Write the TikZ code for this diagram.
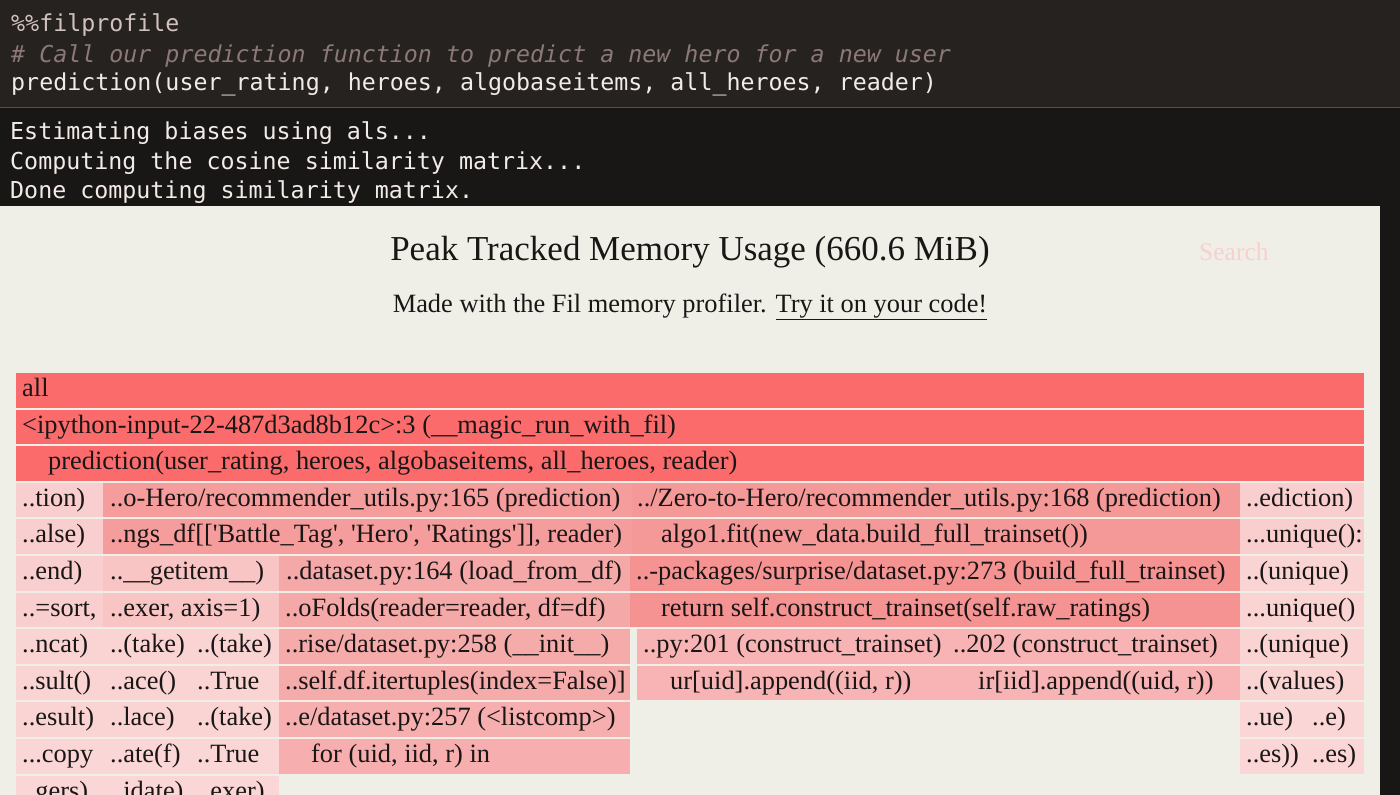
\documentclass[tikz,border=0pt]{standalone}
\usepackage{fontspec}
\setmainfont{Liberation Serif}
\newfontfamily\codefont{DejaVu Sans Mono}
\definecolor{darkbg}{HTML}{181716}
\definecolor{cellbg}{HTML}{262220}
\definecolor{celline}{HTML}{5C4D4A}
\definecolor{panel}{HTML}{F0EFE7}
\definecolor{codetxt}{HTML}{F3EBE8}
\definecolor{magictxt}{HTML}{D2C2BE}
\definecolor{commtxt}{HTML}{8C7876}
\definecolor{flametxt}{HTML}{1A1616}
\definecolor{searchtxt}{HTML}{F8D0D0}
\definecolor{cTop}{HTML}{FB6B6B}
\definecolor{cA}{HTML}{F59C9C}
\definecolor{cB}{HTML}{F59898}
\definecolor{cC}{HTML}{F59292}
\definecolor{cD}{HTML}{F5A8A8}
\definecolor{cE}{HTML}{F6ABAB}
\definecolor{cF}{HTML}{F8B4B4}
\definecolor{cG}{HTML}{F7AEAE}
\definecolor{cH}{HTML}{F8C4C4}
\definecolor{cL}{HTML}{F9CECE}
\definecolor{cM}{HTML}{FAD3D3}
\definecolor{cN}{HTML}{FBD6D6}
\newcommand\flamebox[6]{%
  \fill[#4] (#2,{373+36.6*#1}) rectangle ({#3-0.4},{373+36.6*#1+34.6});
  \node[ft] (n-#1-#2) at (#5,{373+36.6*#1+23.5}) {#6};
}
\newcommand\q{\textquotesingle}
\begin{document}
\begin{tikzpicture}[x=1pt,y=-1pt,
  ft/.style={inner sep=0pt, anchor=base west, text=flametxt, font=\fontsize{26.4}{30}\selectfont},
  code/.style={inner sep=0pt, anchor=base west, font=\codefont\fontsize{23.3}{28}\selectfont}]
\useasboundingbox (0,0) rectangle (1400,795);
\clip (0,0) rectangle (1400,795);
% backgrounds
\fill[darkbg] (0,0) rectangle (1400,795);
\fill[cellbg] (0,0) rectangle (1400,107);
\draw[celline, line width=1pt] (0,107) -- (1400,107);
\fill[panel] (0,206) rectangle (1380,795);
% code cell
\node[code, text=magictxt] (magic) at (11,31.5) {\%\%filprofile};
\node[code, text=commtxt] (comment) at (11,62) {\itshape \# Call our prediction function to predict a new hero for a new user};
\node[code, text=codetxt] (call) at (11,90.5) {prediction(user\_rating, heroes, algobaseitems, all\_heroes, reader)};
% output
\node[code, text=codetxt] (out1) at (10,139.5) {Estimating biases using als...};
\node[code, text=codetxt] (out2) at (10,169) {Computing the cosine similarity matrix...};
\node[code, text=codetxt] (out3) at (10,198.5) {Done computing similarity matrix.};
% titles
\node[inner sep=0pt, anchor=base, text=flametxt, font=\fontsize{35}{40}\selectfont] (title) at (690,260.5) {Peak Tracked Memory Usage (660.6 MiB)};
\node[inner sep=0pt, anchor=base, text=flametxt, font=\fontsize{26.4}{30}\selectfont] (sub) at (690,312.5) {Made with the Fil memory profiler. \underline{Try it on your code!}};
\node[inner sep=0pt, anchor=base west, text=searchtxt, font=\fontsize{25.5}{30}\selectfont] (search) at (1199,260) {Search};
% flame graph
\flamebox{0}{16}{1364}{cTop}{22}{all}
\flamebox{1}{16}{1364}{cTop}{22}{<ipython-input-22-487d3ad8b12c>:3 (\_\_magic\_run\_with\_fil)}
\flamebox{2}{16}{1364}{cTop}{48}{prediction(user\_rating, heroes, algobaseitems, all\_heroes, reader)}
% row 3
\flamebox{3}{16}{103}{cL}{22}{..tion)}
\flamebox{3}{103}{632}{cA}{110}{..o-Hero/recommender\_utils.py:165 (prediction)}
\flamebox{3}{632}{1240}{cB}{637}{../Zero-to-Hero/recommender\_utils.py:168 (prediction)}
\flamebox{3}{1240}{1364}{cL}{1246}{..ediction)}
% row 4
\flamebox{4}{16}{103}{cL}{22}{..alse)}
\flamebox{4}{103}{632}{cA}{110}{..ngs\_df[[\q Battle\_Tag\q, \q Hero\q, \q Ratings\q]], reader)}
\flamebox{4}{632}{1240}{cB}{661}{algo1.fit(new\_data.build\_full\_trainset())}
\flamebox{4}{1240}{1364}{cL}{1246}{...unique():}
% row 5
\flamebox{5}{16}{103}{cL}{22}{..end)}
\flamebox{5}{103}{279}{cH}{110}{..\_\_getitem\_\_)}
\flamebox{5}{279}{630}{cD}{286}{..dataset.py:164 (load\_from\_df)}
\flamebox{5}{630}{1240}{cC}{636}{..-packages/surprise/dataset.py:273 (build\_full\_trainset)}
\flamebox{5}{1240}{1364}{cM}{1246}{..(unique)}
% row 6
\flamebox{6}{16}{103}{cL}{22}{..=sort,}
\flamebox{6}{103}{279}{cH}{110}{..exer, axis=1)}
\flamebox{6}{279}{630}{cD}{285}{..oFolds(reader=reader, df=df)}
\flamebox{6}{630}{1240}{cC}{661}{return self.construct\_trainset(self.raw\_ratings)}
\flamebox{6}{1240}{1364}{cM}{1246}{...unique()}
% row 7
\flamebox{7}{16}{103}{cM}{22}{..ncat)}
\flamebox{7}{103}{190}{cM}{110}{..(take)}
\flamebox{7}{190}{279}{cM}{197}{..(take)}
\flamebox{7}{279}{630}{cE}{285}{..rise/dataset.py:258 (\_\_init\_\_)}
\flamebox{7}{637}{948}{cF}{643}{..py:201 (construct\_trainset)}
\flamebox{7}{948}{1240}{cF}{953}{..202 (construct\_trainset)}
\flamebox{7}{1240}{1364}{cM}{1246}{..(unique)}
% row 8
\flamebox{8}{16}{103}{cM}{22}{..sult()}
\flamebox{8}{103}{190}{cM}{110}{..ace()}
\flamebox{8}{190}{279}{cM}{197}{..True}
\flamebox{8}{279}{630}{cE}{285}{..self.df.itertuples(index=False)]}
\flamebox{8}{637}{948}{cF}{670}{ur[uid].append((iid, r))}
\flamebox{8}{948}{1240}{cF}{978}{ir[iid].append((uid, r))}
\flamebox{8}{1240}{1364}{cM}{1246}{..(values)}
% row 9
\flamebox{9}{16}{103}{cM}{22}{..esult)}
\flamebox{9}{103}{190}{cM}{110}{..lace)}
\flamebox{9}{190}{279}{cM}{197}{..(take)}
\flamebox{9}{279}{630}{cG}{285}{..e/dataset.py:257 (<listcomp>)}
\flamebox{9}{1240}{1306}{cN}{1246}{..ue)}
\flamebox{9}{1306}{1364}{cN}{1312}{..e)}
% row 10
\flamebox{10}{16}{103}{cN}{22}{...copy}
\flamebox{10}{103}{190}{cN}{110}{..ate(f)}
\flamebox{10}{190}{279}{cN}{197}{..True}
\flamebox{10}{279}{630}{cG}{311}{for (uid, iid, r) in}
\flamebox{10}{1240}{1306}{cN}{1246}{..es))}
\flamebox{10}{1306}{1364}{cN}{1312}{..es)}
% row 11
\flamebox{11}{16}{103}{cN}{22}{..gers)}
\flamebox{11}{103}{190}{cN}{110}{..idate)}
\flamebox{11}{190}{279}{cN}{197}{..exer)}
\end{tikzpicture}
\end{document}
